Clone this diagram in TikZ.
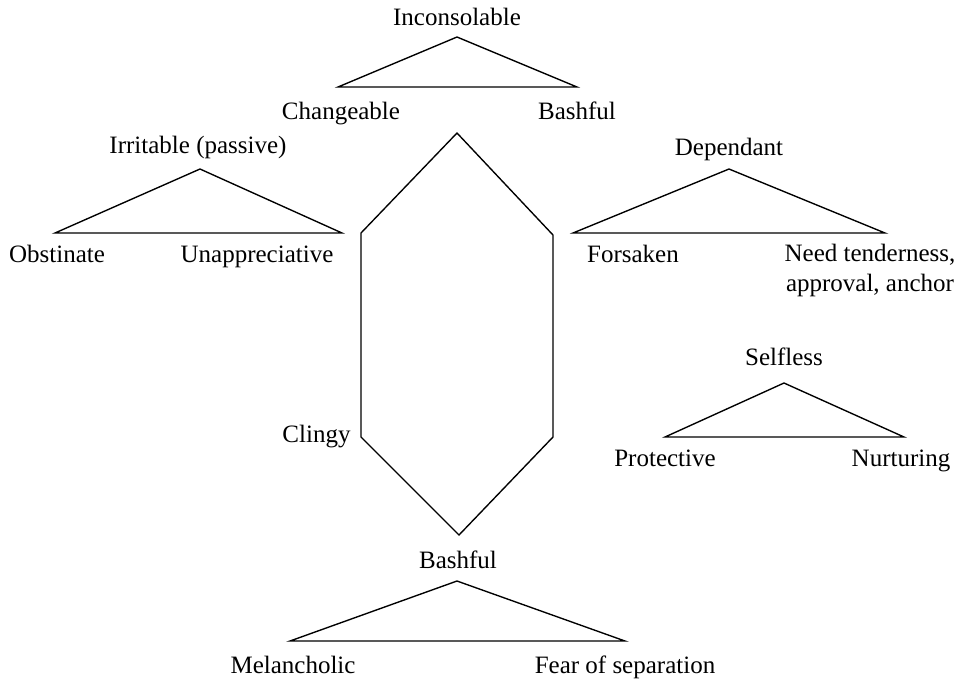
\documentclass[tikz,border=0pt]{standalone}
\usepackage{fontspec}
\setmainfont{Liberation Serif}
\usetikzlibrary{positioning}

\begin{document}
\begin{tikzpicture}[x=0.4pt, y=-0.4pt,
  lbl/.style={anchor=base, inner sep=0pt},
  tri/.style={line width=0.55pt, line join=miter}]
\useasboundingbox (0,0) rectangle (961,683);

% top: Inconsolable
\coordinate (incTop) at (457,37);
\coordinate (incL) at (338,87);
\coordinate (incR) at (577,87);
\node[lbl] (inconsolable) at (457,25) {Inconsolable};
\node[lbl] (changeable) at (341,119) {Changeable};
\node[lbl] (bashfulTop) at (577,119) {Bashful};
\draw[tri] (incTop) -- (incL) -- (incR) -- cycle;

% left: Irritable (passive)
\coordinate (irrTop) at (200,169);
\coordinate (irrL) at (55,233);
\coordinate (irrR) at (342,233);
\node[lbl] (irritable) at (198,153) {Irritable (passive)};
\node[lbl] (obstinate) at (57,262) {Obstinate};
\node[lbl] (unappr) at (257,262) {Unappreciative};
\draw[tri] (irrTop) -- (irrL) -- (irrR) -- cycle;

% right: Dependant
\coordinate (depTop) at (729,169);
\coordinate (depL) at (573,233);
\coordinate (depR) at (885,233);
\node[lbl] (dependant) at (729,155) {Dependant};
\node[lbl] (forsaken) at (633,262) {Forsaken};
\node[lbl, align=center] (need) at (870,291) {Need tenderness,\\approval, anchor};
\draw[tri] (depTop) -- (depL) -- (depR) -- cycle;

% right, lower: Selfless
\coordinate (selTop) at (784,383);
\coordinate (selL) at (665,437);
\coordinate (selR) at (904,437);
\node[lbl] (selfless) at (784,365) {Selfless};
\node[lbl] (protective) at (665,466) {Protective};
\node[lbl] (nurturing) at (901,466) {Nurturing};
\draw[tri] (selTop) -- (selL) -- (selR) -- cycle;

% centre: Clingy (hexagon)
\coordinate (hexT) at (457,133);
\coordinate (hexUL) at (361,233);
\coordinate (hexLL) at (361,437);
\coordinate (hexB) at (459,535);
\coordinate (hexLR) at (553,437);
\coordinate (hexUR) at (553,235);
\node[lbl, anchor=base east] (clingy) at (351,442) {Clingy};
\draw[tri] (hexT) -- (hexUL) -- (hexLL) -- (hexB) -- (hexLR) -- (hexUR) -- cycle;

% bottom: Bashful
\coordinate (basTop) at (457,581);
\coordinate (basL) at (290,641);
\coordinate (basR) at (625,641);
\node[lbl] (bashfulBot) at (458,568) {Bashful};
\node[lbl] (melancholic) at (293,673) {Melancholic};
\node[lbl] (fear) at (625,673) {Fear of separation};
\draw[tri] (basTop) -- (basL) -- (basR) -- cycle;
\end{tikzpicture}
\end{document}
